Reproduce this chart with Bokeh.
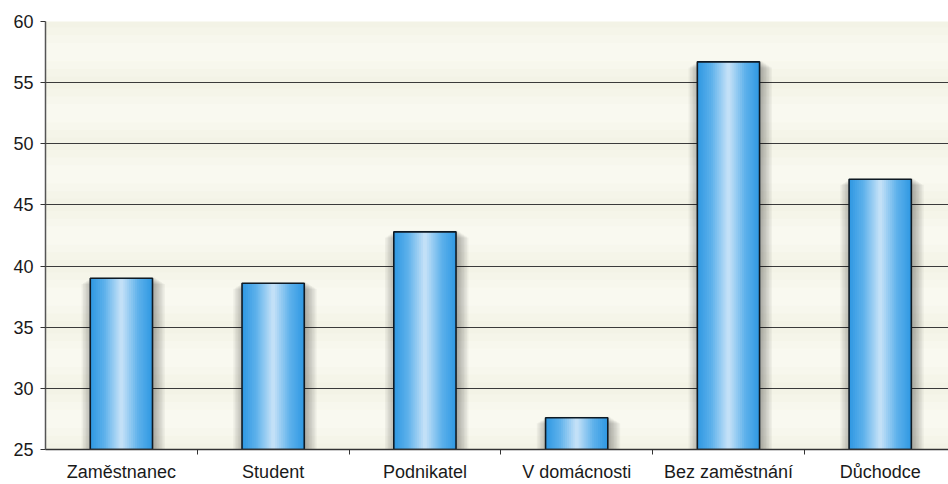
from bokeh.plotting import figure
from bokeh.models import Range1d, FixedTicker
from bokeh.embed import file_html
from bokeh.resources import INLINE

categories = ["Zaměstnanec", "Student", "Podnikatel", "V domácnosti", "Bez zaměstnání", "Důchodce"]
values = [39.0, 38.6, 42.8, 27.6, 56.7, 47.1]
y_ticks = [25, 30, 35, 40, 45, 50, 55, 60]

BASE = y_ticks[0]
centers = [i + 0.5 for i in range(len(categories))]
boundaries = [i for i in range(1, len(categories))]

p = figure(width=948, height=484,
           x_range=Range1d(0.0, 5.95), y_range=Range1d(y_ticks[0], y_ticks[-1]),
           output_backend="svg", toolbar_location=None,
           min_border_left=45, min_border_top=21, min_border_bottom=35, min_border_right=0)
p.background_fill_color = "#f3f3e6"
p.border_fill_color = "white"
p.outline_line_color = None

# subtle background banding between gridlines
band_centers = [(a + b) / 2 for a, b in zip(y_ticks[:-1], y_ticks[1:])]
for frac, col in [(0.8, "#f5f5e9"), (0.55, "#f7f7ed"), (0.3, "#f9f9f0")]:
    p.hbar(y=band_centers, height=5 * frac, left=-1, right=7, color=col, line_color=None)

# grid
p.xgrid.grid_line_color = None
p.ygrid.ticker = FixedTicker(ticks=y_ticks)
p.ygrid.grid_line_color = "#3a3a3a"
p.ygrid.grid_line_width = 1
p.ygrid.level = "underlay"

# bar shadows
W = 0.41
for k in range(8):
    p.vbar(x=[c + 0.012 for c in centers],
           width=W + 0.02 * k, bottom=BASE, top=[v + 0.1 - 0.08 * k for v in values],
           fill_color="black", fill_alpha=0.045, line_color=None)

# bars with cylindrical gradient
def lerp(c1, c2, t):
    a = [int(c1[i:i + 2], 16) for i in (1, 3, 5)]
    b = [int(c2[i:i + 2], 16) for i in (1, 3, 5)]
    return "#%02x%02x%02x" % tuple(round(a[i] + (b[i] - a[i]) * t) for i in range(3))

edge, mid, light = "#3199e3", "#5db1eb", "#c2e0f7"
N = 16
for i in range(N):
    f = 1 - i / N
    t = i / (N - 1)
    col = lerp(edge, mid, t / 0.45) if t < 0.45 else lerp(mid, light, (t - 0.45) / 0.55)
    p.vbar(x=centers, width=W * f, bottom=BASE, top=values,
           fill_color=col, line_color=None)
p.vbar(x=centers, width=W, bottom=BASE, top=values,
       fill_color=None, line_color="#0f1a24", line_width=1.6)

# axes
p.xaxis.ticker = FixedTicker(ticks=centers, minor_ticks=boundaries)
p.xaxis.major_label_overrides = {c: name for c, name in zip(centers, categories)}
p.xaxis.major_tick_line_color = None
p.xaxis.major_tick_out = 0
p.xaxis.major_tick_in = 0
p.xaxis.minor_tick_line_color = "#333333"
p.xaxis.minor_tick_out = 5
p.xaxis.minor_tick_in = 0
p.xaxis.axis_line_color = "#333333"
p.xaxis.axis_line_width = 1.5
p.xaxis.major_label_standoff = 7
p.xaxis.major_label_text_font = "Liberation Sans"
p.xaxis.major_label_text_font_size = "18px"
p.xaxis.major_label_text_line_height = 0.8
p.xaxis.major_label_text_color = "#1a1a1a"

p.yaxis.ticker = FixedTicker(ticks=y_ticks)
p.yaxis.axis_line_color = "#555555"
p.yaxis.axis_line_width = 1.5
p.yaxis.major_tick_line_color = "#333333"
p.yaxis.major_tick_out = 5
p.yaxis.major_tick_in = 0
p.yaxis.minor_tick_line_color = None
p.yaxis.major_label_standoff = 7
p.yaxis.major_label_text_font = "Liberation Sans"
p.yaxis.major_label_text_font_size = "18px"
p.yaxis.major_label_text_color = "#1a1a1a"

open("out.html", "w").write(file_html(p, INLINE))
